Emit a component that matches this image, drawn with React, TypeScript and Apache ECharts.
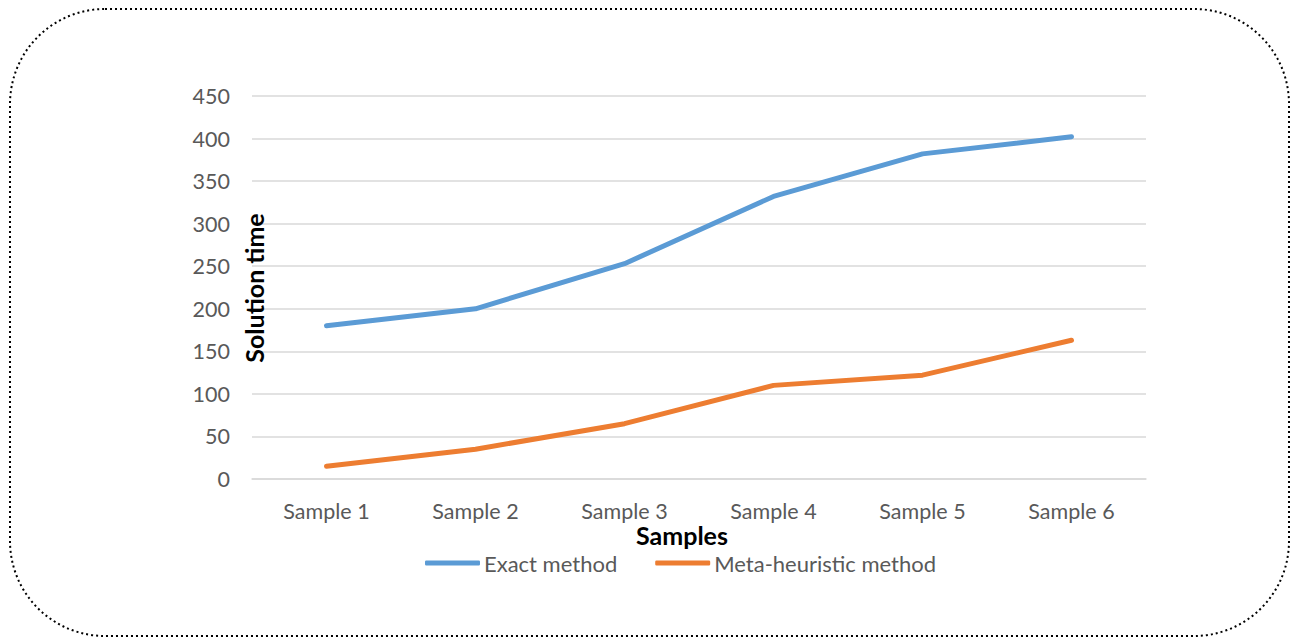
import React, { useEffect, useRef } from "react";
import * as echarts from "echarts";

const categories = ["Sample 1", "Sample 2", "Sample 3", "Sample 4", "Sample 5", "Sample 6"];
const exactMethod = [180, 200, 253, 332, 382, 402];
const metaHeuristic = [15, 35, 65, 110, 122, 163];
const seriesNames = ["Exact method", "Meta-heuristic method"];
const xTitle = "Samples";
const yTitle = "Solution time";

const FONT = "Lato, 'Open Sans', sans-serif";

export default function App() {
  const ref = useRef<HTMLDivElement>(null);
  useEffect(() => {
    if (!ref.current) return;
    const chart = echarts.init(ref.current, null, { renderer: "svg" });
    chart.setOption({
      animation: false,
      backgroundColor: "#ffffff",
      textStyle: { fontFamily: FONT },
      grid: { left: 252, right: 148, top: 96, bottom: 160 },
      legend: {
        data: seriesNames,
        left: 420,
        top: 547,
        itemWidth: 55,
        itemHeight: 5,
        itemGap: 38,
        icon: "roundRect",
        textStyle: { fontFamily: FONT, fontSize: 22, color: "#595959", padding: [0, 0, 0, -1] },
      },
      xAxis: {
        type: "category",
        data: categories,
        boundaryGap: true,
        axisLine: { show: true, lineStyle: { color: "#d9d9d9", width: 1.5 } },
        axisTick: { show: false },
        axisLabel: { color: "#595959", fontSize: 21.5, margin: 21, fontFamily: FONT },
      },
      yAxis: {
        type: "value",
        min: 0,
        max: 450,
        interval: 50,
        axisLine: { show: false },
        axisTick: { show: false },
        axisLabel: { color: "#595959", fontSize: 21.5, margin: 22, fontFamily: FONT },
        splitLine: { lineStyle: { color: "#d9d9d9", width: 1.5 } },
      },
      series: [
        {
          name: seriesNames[0],
          type: "line",
          data: exactMethod,
          symbol: "none",
          lineStyle: { color: "#5b9bd5", width: 5, cap: "round", join: "round" },
          itemStyle: { color: "#5b9bd5" },
        },
        {
          name: seriesNames[1],
          type: "line",
          data: metaHeuristic,
          symbol: "none",
          lineStyle: { color: "#ed7d31", width: 5, cap: "round", join: "round" },
          itemStyle: { color: "#ed7d31" },
        },
      ],
      graphic: [
        {
          type: "rect",
          shape: { x: 10, y: 9, width: 1279, height: 627, r: 95 },
          style: { fill: "none", stroke: "#000000", lineWidth: 2, lineDash: [2, 3] },
          silent: true,
        },
        {
          type: "text",
          x: 682,
          y: 535,
          style: {
            text: xTitle,
            fontFamily: FONT,
            fontSize: 25,
            fontWeight: "bold",
            fill: "#000000",
            align: "center",
            verticalAlign: "middle",
          },
          z: 10,
        },
        {
          type: "text",
          x: 254,
          y: 288,
          rotation: Math.PI / 2,
          style: {
            text: yTitle,
            fontFamily: FONT,
            fontSize: 25,
            fontWeight: "bold",
            fill: "#000000",
            align: "center",
            verticalAlign: "middle",
          },
          z: 10,
        },
      ],
    });
    return () => chart.dispose();
  }, []);
  return (
    <div
      ref={ref}
      style={{ position: "absolute", left: 0, top: 0, width: 1294, height: 639 }}
    />
  );
}
